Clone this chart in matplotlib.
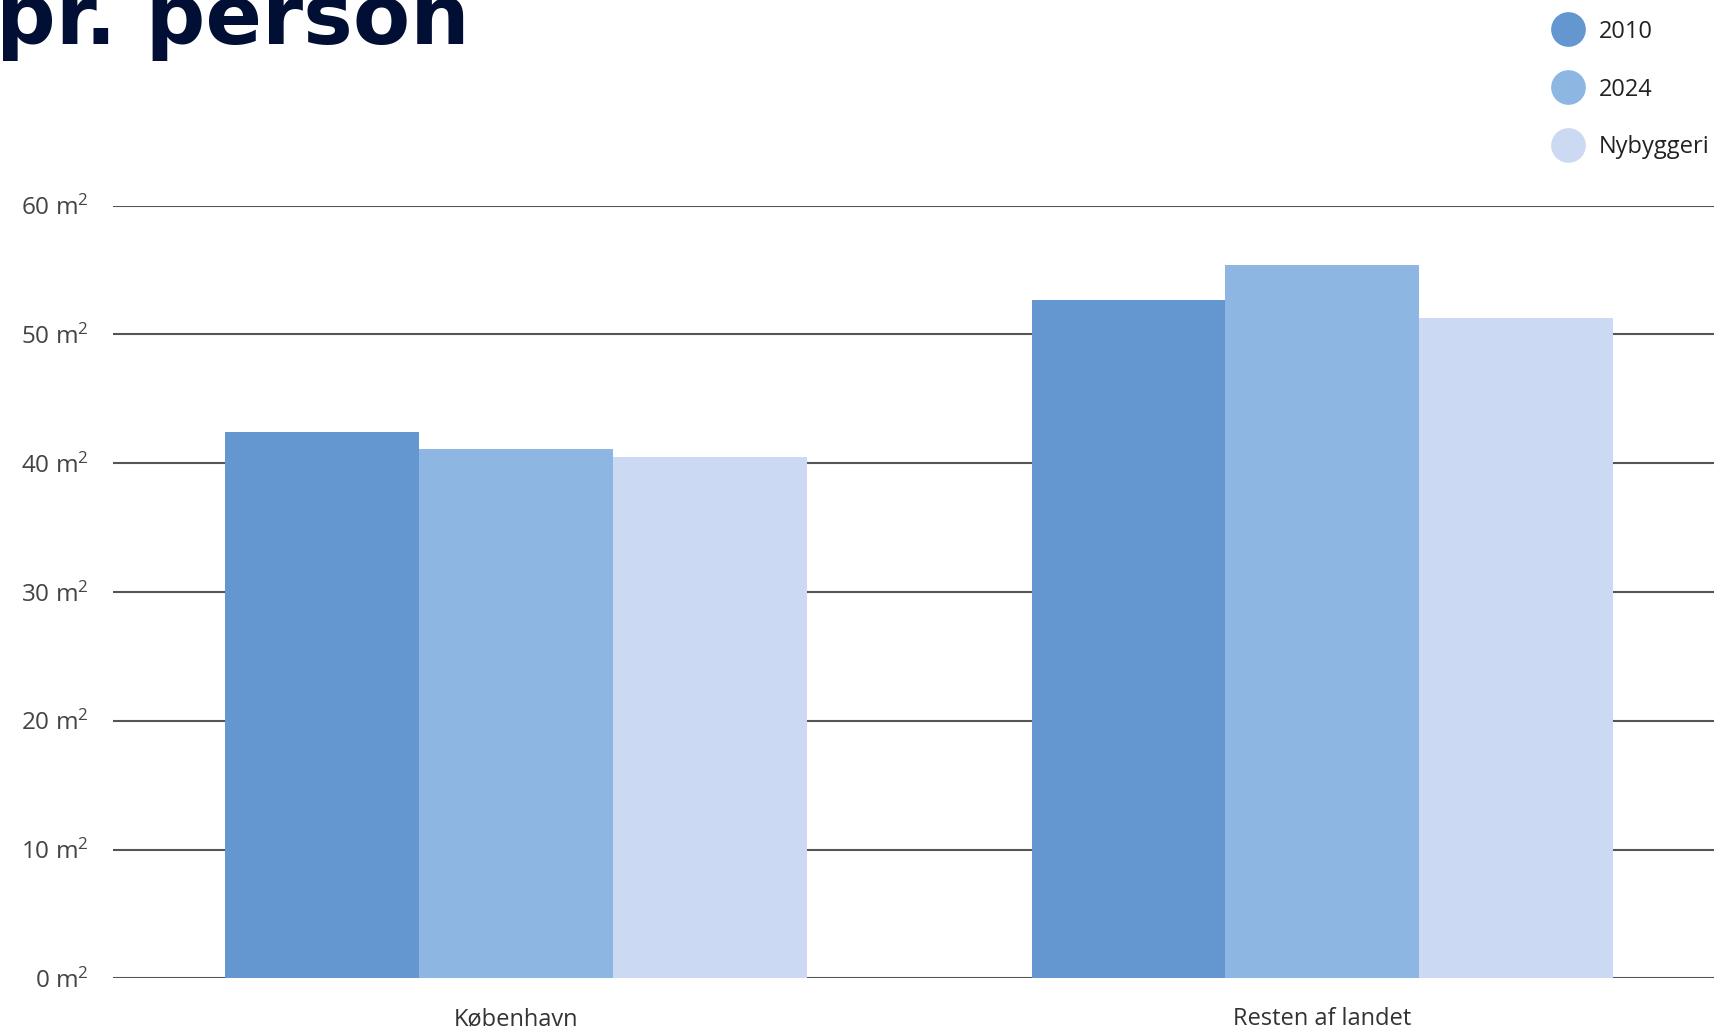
import matplotlib
matplotlib.use("Agg")
import matplotlib.pyplot as plt
from matplotlib.lines import Line2D
import numpy as np

plt.rcParams["mathtext.fontset"] = "custom"
plt.rcParams["mathtext.rm"] = "Open Sans"
plt.rcParams["mathtext.it"] = "Open Sans"
plt.rcParams["mathtext.default"] = "regular"

categories = ["København", "Resten af landet"]
series_names = ["2010", "2024", "Nybyggeri"]
values_2010 = [42.4, 52.7]
values_2024 = [41.1, 55.4]
values_nyb = [40.5, 51.3]
yticks = [0, 10, 20, 30, 40, 50, 60]
ytick_labels = [f"{v} m$^{{2}}$" for v in yticks]

colors = ["#6497d0", "#8eb6e2", "#cbd9f2"]
series = [values_2010, values_2024, values_nyb]

W, H = 1714, 1030
fig = plt.figure(figsize=(W / 100, H / 100), dpi=100)
ax = fig.add_axes([112.6 / W, (H - 978.3) / H, 1 - 112.6 / W, (978.3 - 205.5) / H])

x = np.arange(len(categories))
bw = 0.2405
for i, (vals, c) in enumerate(zip(series, colors)):
    ax.bar(x + (i - 1) * bw, vals, width=bw, color=c, zorder=3, linewidth=0)

ax.set_xlim(-0.5, 1.4854)
ax.set_ylim(0, 60)
ax.set_yticks(yticks)
ax.set_yticklabels(ytick_labels, family="Open Sans", fontsize=17.5, color="#444444")
ax.set_xticks(x)
ax.set_xticklabels(categories, family="Open Sans", fontsize=17, color="#333333")
ax.tick_params(axis="y", length=0, pad=17)
ax.tick_params(axis="x", length=0, pad=21)
for s in ax.spines.values():
    s.set_visible(False)
ax.yaxis.grid(True, color="#555555", linewidth=1.5, zorder=0)
ax.set_axisbelow(True)

# Title (cut off at top and left, as in the reference)
fig.text(470 / W, 1 - 44 / H, "pr. person", ha="right", va="baseline",
         family="DejaVu Sans", fontweight="bold", fontsize=60, color="#000f33")

handles = [Line2D([], [], marker="o", linestyle="none", markersize=25,
                  markerfacecolor=c, markeredgecolor="none") for c in colors]
leg = fig.legend(handles, series_names, loc="upper right",
                 bbox_to_anchor=(1.003, 0.99), frameon=False,
                 prop={"family": "Open Sans", "size": 17}, labelspacing=1.43,
                 handletextpad=0.73, borderaxespad=0.0, handlelength=1.2)
for t in leg.get_texts():
    t.set_color("#222222")

fig.savefig("out.png", dpi=100)
